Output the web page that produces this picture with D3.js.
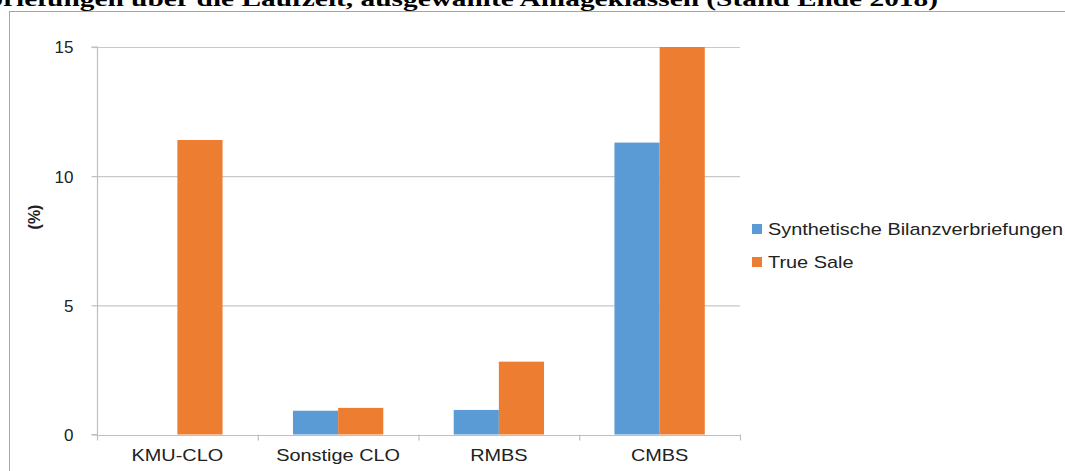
<!DOCTYPE html>
<html><head><meta charset="utf-8">
<script src="https://cdn.jsdelivr.net/npm/d3@7"></script>
<style>body{margin:0;background:#fff;overflow:hidden}svg{display:block}</style>
</head><body>
<svg id="c" width="1065" height="471"></svg>
<script>
const categories = ["KMU-CLO", "Sonstige CLO", "RMBS", "CMBS"];
const seriesNames = ["Synthetische Bilanzverbriefungen", "True Sale"];
const synthetic = [0, 0.92, 0.95, 11.3];
const trueSale = [11.4, 1.03, 2.82, 15.0];
const yTicks = [0, 5, 10, 15];
const colors = ["#5B9BD5", "#ED7D31"];
const title = "Ausfallraten von Verbriefungen über die Laufzeit, ausgewählte Anlageklassen (Stand Ende 2018)";

const svg = d3.select("#c");
const sx = 1.17;
function stretch(sel, s){ s = s || sx; sel.attr("transform", function(){ const x=+this.getAttribute("x")||0; return `translate(${x*(1-s)},0) scale(${s},1)`; }); }

// outer border
svg.append("rect").attr("x",9.5).attr("y",11.5).attr("width",1100).attr("height",500)
  .attr("fill","none").attr("stroke","#a6a6a6").attr("stroke-width",1);

// title
svg.append("text").attr("x",938).attr("y",6).attr("text-anchor","end")
  .attr("font-family","Liberation Serif, Times New Roman, serif").attr("font-weight","bold")
  .attr("font-size",22).attr("fill","#000").text(title).call(stretch, 1.335);

const x0 = 97, x1 = 740, yTop = 47, yBot = 434.5;
const x = d3.scaleBand().domain(categories).range([x0, x1]).paddingInner(0).paddingOuter(0);
const y = d3.scaleLinear().domain([0, 15]).range([yBot, yTop]);
const xs = d3.scaleBand().domain([0,1]).range([0, x.bandwidth()]).paddingInner(0).paddingOuter(0.78);

// gridlines
svg.append("g").selectAll("line").data(yTicks.filter(d=>d>0)).join("line")
  .attr("x1",x0).attr("x2",x1).attr("y1",d=>y(d)+0.5).attr("y2",d=>y(d)+0.5)
  .attr("stroke","#c8c8c8").attr("stroke-width",1.2);

// bars
const data = categories.map((c,i)=>({c, vals:[synthetic[i], trueSale[i]]}));
svg.append("g").selectAll("g").data(data).join("g")
  .attr("transform", d=>`translate(${x(d.c)},0)`)
  .selectAll("rect").data(d=>d.vals.map((v,k)=>({v,k}))).join("rect")
  .attr("x", d=>xs(d.k)).attr("width", xs.bandwidth())
  .attr("y", d=>y(d.v)).attr("height", d=>yBot - y(d.v))
  .attr("fill", d=>colors[d.k]);

// y axis
const yAxis = d3.axisLeft(y).tickValues(yTicks).tickSize(6).tickPadding(18).tickFormat(d3.format("d"));
const gy = svg.append("g").attr("transform",`translate(${x0+0.5},0)`).call(yAxis);
gy.select(".domain").attr("stroke","#bfbfbf").attr("stroke-width",1.2).attr("d",`M-6,${yTop}H0V${yBot}H-6`);
gy.selectAll(".tick line").attr("stroke","#bfbfbf").attr("stroke-width",1.2);
gy.selectAll(".tick text").attr("font-family","Arial, Liberation Sans, sans-serif").attr("font-size",17).attr("fill","#222").attr("dy","0.35em");

// x axis
const xAxis = d3.axisBottom(x).tickSize(0).tickPadding(14);
const gx = svg.append("g").attr("transform",`translate(0,${yBot+0.5})`).call(xAxis);
gx.select(".domain").attr("stroke","#bfbfbf").attr("stroke-width",1.2);
gx.selectAll(".tick text").attr("font-family","Arial, Liberation Sans, sans-serif").attr("font-size",17).attr("fill","#222")
  .attr("x",0).each(function(){ d3.select(this).attr("transform",`scale(${sx},1)`); });
// category boundary ticks
svg.append("g").selectAll("line").data(categories.map(c=>x(c)).concat([x1])).join("line")
  .attr("x1",d=>d+0.5).attr("x2",d=>d+0.5).attr("y1",yBot).attr("y2",yBot+6)
  .attr("stroke","#bfbfbf").attr("stroke-width",1.2);

// y label
svg.append("text").attr("transform","translate(40,217) rotate(-90)").attr("text-anchor","middle")
  .attr("font-family","Arial, Liberation Sans, sans-serif").attr("font-weight","bold").attr("font-size",16)
  .attr("fill","#222").text("(%)");

// legend
const lg = svg.append("g");
seriesNames.forEach((n,i)=>{
  const yy = 229 + i*33;
  lg.append("rect").attr("x",752).attr("y",yy-5).attr("width",10).attr("height",10).attr("fill",colors[i]);
  lg.append("text").attr("x",768).attr("y",yy).attr("dy","0.35em")
    .attr("font-family","Arial, Liberation Sans, sans-serif").attr("font-size",17).attr("fill","#222")
    .text(n).call(stretch);
});
</script>
</body></html>
